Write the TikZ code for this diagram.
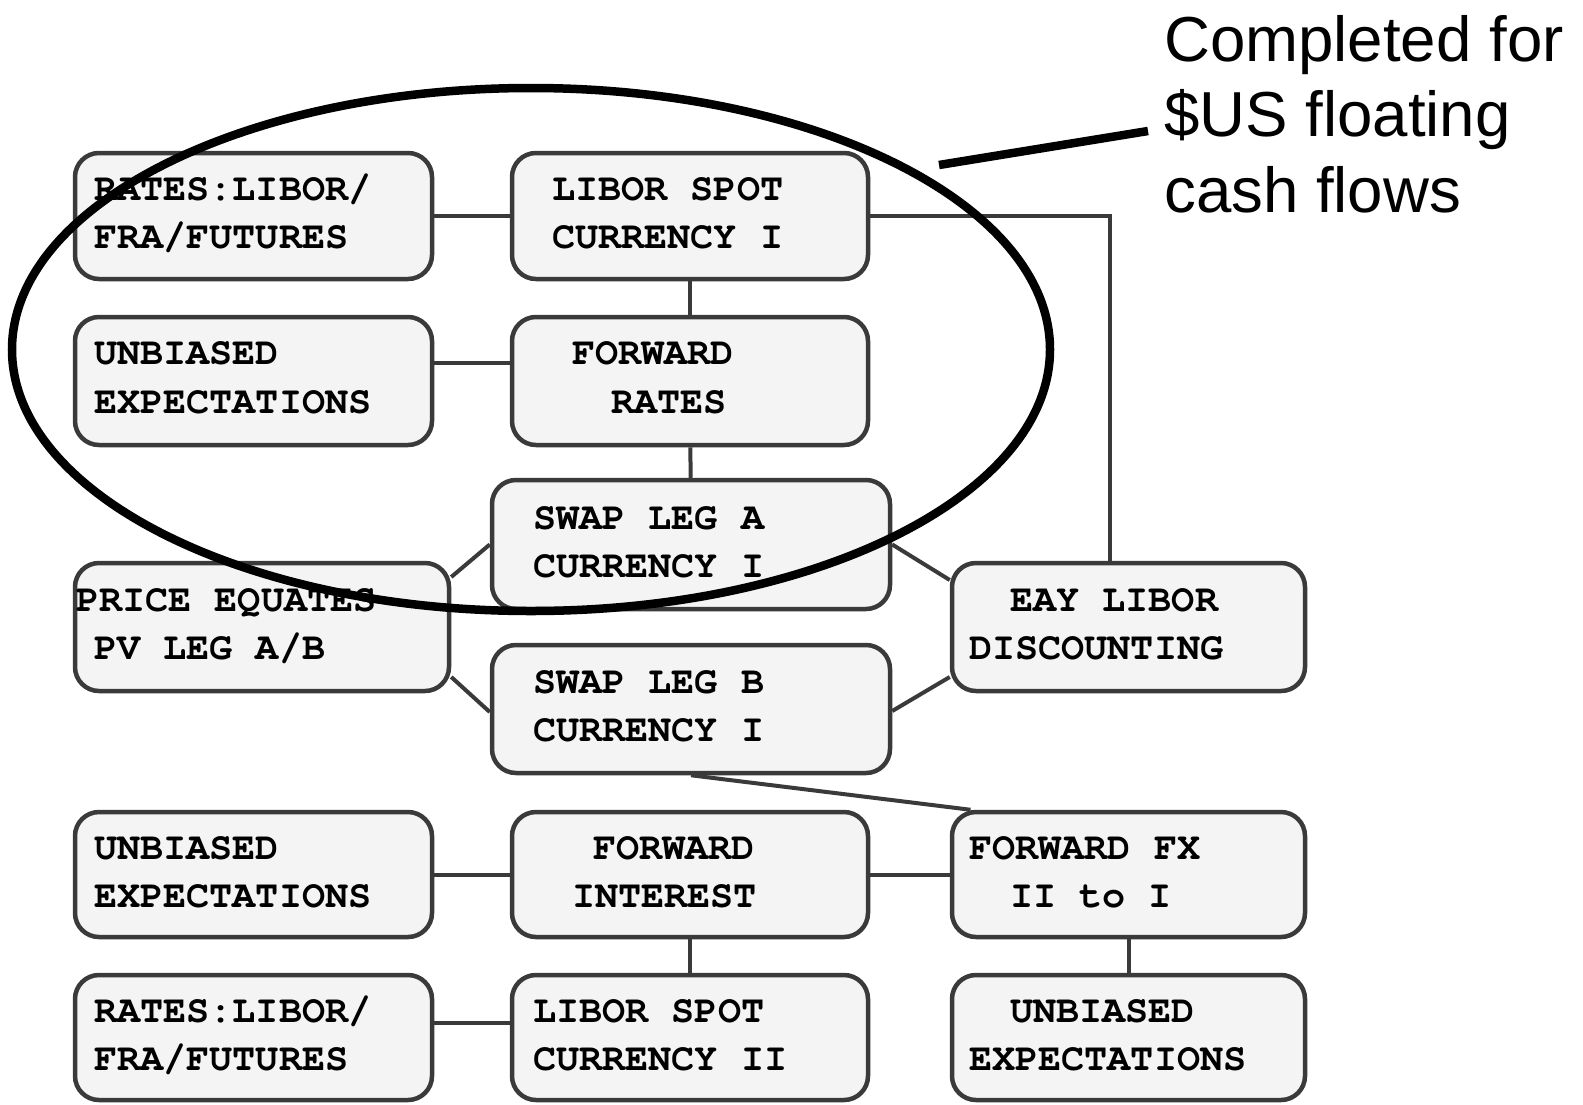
\documentclass[tikz,border=0pt]{standalone}
\usepackage{fontspec}
\setmainfont{Liberation Sans}
\setmonofont{texgyrecursor}[Extension=.otf, UprightFont=*-regular, BoldFont=*-bold]
\usetikzlibrary{calc}
\definecolor{boxline}{HTML}{3A3A3A}
\definecolor{boxfill}{HTML}{F4F4F4}
\tikzset{
  card/.style={draw=boxline, fill=boxfill, line width=4.5pt, rounded corners=24pt,
               rectangle, inner sep=0pt},
  link/.style={draw=boxline, line width=4pt},
  tline/.style={anchor=base west, inner sep=0pt,
                font=\ttfamily\bfseries\fontsize{38.5}{46}\selectfont},
  notetext/.style={anchor=base west, inner sep=0pt,
                   font=\fontsize{63.6}{75}\selectfont},
  ring/.style={draw=black, line width=8.5pt},
}
% box from its corners: name, x1, y1, x2, y2
\newcommand\cardbox[5]{%
  \node[card, minimum width={(#4)-(#2)}, minimum height={(#5)-(#3)}]
    (#1) at ({((#2)+(#4))/2},{((#3)+(#5))/2}) {};}
\begin{document}
\begin{tikzpicture}[x=1pt, y=-1pt]
\useasboundingbox (0,0) rectangle (1583,1104);

% boxes
\cardbox{b11}{75}{153}{432}{279}
\cardbox{b12}{512}{153}{868}{279}
\cardbox{b21}{75}{317}{432}{445}
\cardbox{b22}{512}{317}{868}{445}
\cardbox{sA}{492}{480}{890}{609}
\cardbox{pr}{75}{563}{449}{691}
\cardbox{sB}{492}{645}{890}{773}
\cardbox{eay}{952}{563}{1305}{691}
\cardbox{c1}{75}{812}{432}{937}
\cardbox{c2}{512}{812}{868}{937}
\cardbox{c3}{952}{812}{1305}{937}
\cardbox{d1}{75}{975}{432}{1100}
\cardbox{d2}{512}{975}{868}{1100}
\cardbox{d3}{952}{975}{1305}{1100}

% connectors
\draw[link] (b11) -- (b12);
\draw[link] (b12) -- (b22);
\draw[link] ([yshift=18pt]b21.east) -- ([yshift=18pt]b22.west);
\draw[link] (b22) -- (sA);
\draw[link] (b12.east) -| ([xshift=-19pt]eay.north);
\draw[link] ([yshift=50pt]pr.east) -- (sA.west);
\draw[link] ([yshift=-50pt]pr.east) -- ([yshift=-3pt]sB.west);
\draw[link] (sA.east) -- ([yshift=47pt]eay.west);
\draw[link] ([yshift=-2pt]sB.east) -- ([yshift=-50pt]eay.west);
\draw[link] (sB.south) -- ([xshift=-158pt]c3.north);
\draw[link] (c1) -- (c2);
\draw[link] (c2) -- (c3);
\draw[link] (c2) -- (d2);
\draw[link] (c3) -- (d3);
\draw[link] ([yshift=15pt]d1.east) -- ([yshift=15pt]d2.west);

% box texts
\node[tline] (t11a) at (94,200) {RATES:LIBOR/};
\node[tline] (t11b) at (94,248) {FRA/FUTURES};
\node[tline] (t12a) at (552,200) {LIBOR SPOT};
\node[tline] (t12b) at (552,248) {CURRENCY I};
\node[tline] (t21a) at (94,364) {UNBIASED};
\node[tline] (t21b) at (94,413) {EXPECTATIONS};
\node[tline] (t22a) at (572,364) {FORWARD};
\node[tline] (t22b) at (611,413) {RATES};
\node[tline] (tsAa) at (533,529) {SWAP LEG A};
\node[tline] (tsAb) at (533,577) {CURRENCY I};
\node[tline] (tpra) at (76,611) {PRICE EQUATES};
\node[tline] (tprb) at (94,659) {PV LEG A/B};
\node[tline] (tsBa) at (533,693) {SWAP LEG B};
\node[tline] (tsBb) at (533,741) {CURRENCY I};
\node[tline] (teaya) at (1010,611) {EAY LIBOR};
\node[tline] (teayb) at (969,659) {DISCOUNTING};
\node[tline] (tc1a) at (94,859) {UNBIASED};
\node[tline] (tc1b) at (94,907) {EXPECTATIONS};
\node[tline] (tc2a) at (593,859) {FORWARD};
\node[tline] (tc2b) at (572,907) {INTEREST};
\node[tline] (tc3a) at (969,859) {FORWARD FX};
\node[tline] (tc3b) at (1010,907) {II to I};
\node[tline] (td1a) at (94,1022) {RATES:LIBOR/};
\node[tline] (td1b) at (94,1070) {FRA/FUTURES};
\node[tline] (td2a) at (533,1022) {LIBOR SPOT};
\node[tline] (td2b) at (533,1070) {CURRENCY II};
\node[tline] (td3a) at (1010,1022) {UNBIASED};
\node[tline] (td3b) at (969,1070) {EXPECTATIONS};

% highlighted group and its callout
\draw[ring] (531,349.5) ellipse [x radius=519pt, y radius=261.5pt];
\coordinate (callA) at (939,165);
\coordinate (callB) at (1148,131);
\draw[ring] (callA) -- (callB);
\node[notetext] (note1) at (1164,61) {Completed for};
\node[notetext] (note2) at (1164,136) {\$US floating};
\node[notetext] (note3) at (1164,212) {cash flows};
\end{tikzpicture}
\end{document}
